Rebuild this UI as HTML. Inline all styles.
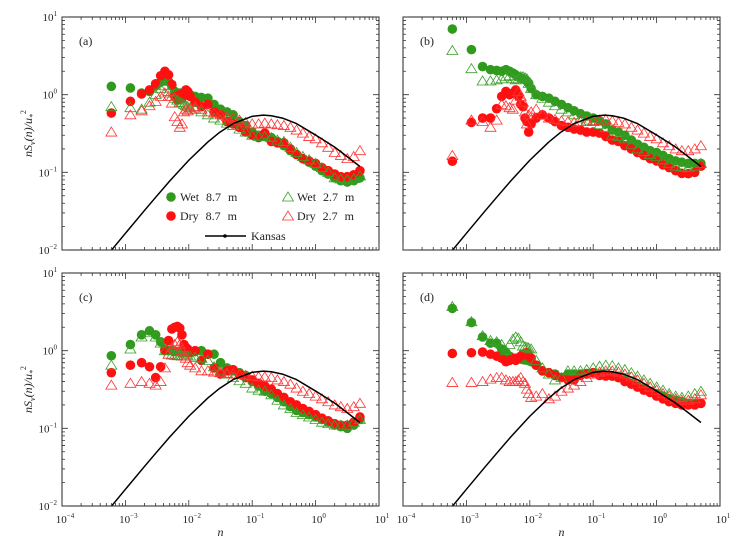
<!DOCTYPE html>
<html><head><meta charset="utf-8"><style>
html,body{margin:0;padding:0;background:#fff;}
svg{display:block;font-family:"Liberation Serif",serif;}
</style></head><body>
<svg id="chart" width="739" height="544" viewBox="0 0 739 544" xmlns="http://www.w3.org/2000/svg"></svg>
<script>
const xs=[6e-4,1.2e-3,1.8e-3,2.4e-3,3e-3,3.6e-3,4.2e-3,4.8e-3,5.4e-3,6e-3,6.6e-3,7.2e-3,7.8e-3,8.4e-3,9e-3,9.6e-3,0.0105,0.0126,0.0158,0.02,0.025,0.0316,0.04,0.05,0.063,0.079,0.1,0.126,0.158,0.2,0.25,0.316,0.4,0.5,0.63,0.79,1,1.26,1.58,2,2.5,3.16,4,5];
// panel a
const aWet87=[1.28,1.22,1.05,1.1,1.3,1.45,1.5,1.48,1.3,1.1,1.0,1.05,0.95,1.0,1.1,1.05,1.0,0.95,0.92,0.9,0.75,0.65,0.6,0.55,0.45,0.4,0.33,0.3,0.29,0.28,0.25,0.22,0.19,0.17,0.15,0.135,0.12,0.105,0.095,0.085,0.078,0.075,0.078,0.085];
const aDry87=[0.58,0.82,1.02,1.15,1.38,1.75,2.0,1.8,1.35,0.95,0.85,1.0,0.9,1.05,1.15,1.1,0.95,0.8,0.7,0.75,0.6,0.55,0.45,0.42,0.38,0.33,0.3,0.28,0.32,0.25,0.24,0.24,0.2,0.17,0.15,0.14,0.13,0.115,0.105,0.095,0.088,0.088,0.093,0.105];
const aWet27=[0.7,0.68,0.65,0.8,1.0,1.2,1.3,1.1,0.95,0.9,0.85,0.8,0.78,0.75,0.72,0.7,0.68,0.65,0.6,0.55,0.5,0.47,0.43,0.4,0.36,0.33,0.3,0.29,0.29,0.28,0.26,0.25,0.21,0.18,0.16,0.145,0.13,0.115,0.1,0.085,0.082,0.08,0.083,0.09];
const aDry27=[0.33,0.55,0.62,0.72,0.82,0.95,1.05,0.95,0.78,0.52,0.45,0.38,0.42,0.6,0.65,0.62,0.65,0.7,0.65,0.6,0.58,0.55,0.52,0.5,0.47,0.44,0.42,0.42,0.43,0.42,0.41,0.4,0.38,0.35,0.32,0.29,0.27,0.24,0.21,0.18,0.165,0.15,0.16,0.19];
// panel b
const bWet87=[7.0,3.8,2.3,2.1,2.05,2.0,2.1,2.0,1.9,1.8,1.7,1.65,1.6,1.55,1.5,1.4,1.2,1.0,0.95,0.9,0.82,0.75,0.68,0.62,0.57,0.53,0.5,0.46,0.42,0.35,0.33,0.3,0.26,0.23,0.21,0.19,0.18,0.165,0.15,0.14,0.135,0.13,0.13,0.13];
const bDry87=[0.139,0.44,0.5,0.5,0.66,0.95,1.1,1.0,1.05,1.15,0.95,0.75,0.7,0.5,0.45,0.33,0.42,0.5,0.55,0.5,0.45,0.4,0.38,0.36,0.35,0.33,0.33,0.32,0.29,0.26,0.25,0.22,0.2,0.18,0.165,0.15,0.14,0.125,0.115,0.105,0.097,0.096,0.1,0.12];
const bWet27=[3.7,2.16,1.5,1.5,1.55,1.6,1.7,1.75,1.6,1.55,1.6,1.7,1.7,1.65,1.6,1.4,1.2,1.0,0.9,0.8,0.72,0.65,0.6,0.55,0.5,0.47,0.45,0.41,0.38,0.3,0.29,0.27,0.23,0.2,0.185,0.17,0.16,0.145,0.13,0.12,0.117,0.115,0.12,0.13];
const bDry27=[0.165,0.47,0.45,0.38,0.47,0.75,0.72,0.68,0.65,0.85,1.1,0.95,0.8,0.6,0.42,0.55,0.6,0.65,0.55,0.5,0.48,0.46,0.45,0.44,0.45,0.45,0.46,0.47,0.48,0.46,0.44,0.42,0.38,0.35,0.32,0.29,0.27,0.24,0.22,0.2,0.19,0.19,0.2,0.22];
// panel c
const cWet87=[0.86,1.2,1.6,1.8,1.6,1.3,1.05,1.0,1.0,0.98,0.97,0.96,0.95,0.95,0.95,0.95,0.95,0.97,1.0,0.9,0.9,0.7,0.6,0.55,0.52,0.48,0.4,0.35,0.3,0.28,0.25,0.22,0.19,0.17,0.16,0.15,0.14,0.13,0.12,0.11,0.105,0.1,0.11,0.13];
const cDry87=[0.52,0.65,0.7,0.62,0.45,0.62,1.0,1.35,1.9,2.0,2.05,1.95,1.6,1.2,1.1,1.05,0.95,1.0,0.75,0.9,0.6,0.5,0.55,0.57,0.5,0.45,0.42,0.38,0.35,0.32,0.28,0.25,0.22,0.2,0.18,0.165,0.15,0.135,0.125,0.115,0.11,0.11,0.12,0.14];
const cWet27=[0.65,1.05,1.5,1.7,1.5,1.25,1.0,0.9,0.88,0.87,0.86,0.86,0.85,0.85,0.85,0.85,0.85,0.82,0.8,0.75,0.62,0.55,0.5,0.45,0.41,0.38,0.33,0.31,0.3,0.27,0.23,0.2,0.18,0.16,0.15,0.14,0.13,0.12,0.115,0.11,0.11,0.11,0.12,0.13];
const cDry27=[0.36,0.38,0.4,0.38,0.36,0.4,0.6,0.9,1.1,1.2,1.3,1.2,1.0,0.85,0.8,0.7,0.65,0.6,0.55,0.55,0.53,0.52,0.51,0.5,0.49,0.48,0.47,0.46,0.46,0.45,0.42,0.4,0.37,0.33,0.3,0.28,0.26,0.24,0.22,0.2,0.19,0.18,0.19,0.21];
// panel d
const dWet87=[3.5,2.3,1.5,1.25,1.25,1.05,0.95,0.85,0.8,0.8,0.8,0.78,0.77,0.76,0.76,0.75,0.72,0.65,0.55,0.52,0.5,0.45,0.5,0.5,0.5,0.51,0.52,0.5,0.48,0.47,0.45,0.42,0.38,0.35,0.32,0.3,0.28,0.26,0.24,0.23,0.22,0.21,0.21,0.21];
const dDry87=[0.92,0.94,0.96,0.9,0.85,0.8,0.72,0.75,0.8,0.75,0.8,0.85,0.9,0.92,0.95,0.85,0.8,0.65,0.55,0.52,0.48,0.45,0.42,0.42,0.48,0.5,0.52,0.48,0.47,0.47,0.45,0.4,0.37,0.34,0.31,0.29,0.26,0.24,0.22,0.21,0.2,0.2,0.2,0.21];
const dWet27=[3.7,2.36,1.56,1.35,1.3,1.2,1.0,1.2,1.4,1.5,1.45,1.3,1.15,1.12,1.1,1.08,1.05,0.75,0.6,0.5,0.42,0.45,0.55,0.55,0.55,0.57,0.6,0.63,0.65,0.64,0.6,0.57,0.52,0.47,0.42,0.38,0.34,0.31,0.28,0.26,0.25,0.26,0.28,0.3];
const dDry27=[0.39,0.39,0.4,0.43,0.45,0.45,0.42,0.4,0.4,0.4,0.42,0.45,0.4,0.38,0.32,0.28,0.25,0.26,0.28,0.24,0.26,0.3,0.33,0.36,0.4,0.45,0.5,0.53,0.55,0.55,0.53,0.5,0.46,0.42,0.38,0.34,0.31,0.28,0.26,0.24,0.23,0.23,0.24,0.27];
// Kansas reference curve
const kansasN=[6e-4,1e-3,2e-3,3e-3,5e-3,0.01,0.02,0.03,0.05,0.1,0.15,0.2,0.3,0.5,1,2,3,5];
const kansasV=[0.0099,0.0164,0.0323,0.0477,0.0773,0.143,0.246,0.323,0.424,0.526,0.545,0.535,0.499,0.424,0.302,0.211,0.164,0.119];
const xTickLabels=["-4","-3","-2","-1","0","1"];
const yTickLabels=["-2","-1","0","1"];

const NS="http://www.w3.org/2000/svg";
const svg=document.getElementById('chart');
function mk(tag,attrs,parent){const e=document.createElementNS(NS,tag);for(const k in attrs)e.setAttribute(k,attrs[k]);(parent||svg).appendChild(e);return e;}
const GREEN="#2f9a1c",RED="#ff1010",GTRI="#3aa02a",RTRI="#ff3333";
const panels=[
 {id:'a',x0:62,x1:379,y0:17,y1:250,s:[aWet87,aDry87,aWet27,aDry27],ylab:true,xlab:false},
 {id:'b',x0:403,x1:720,y0:17,y1:250,s:[bWet87,bDry87,bWet27,bDry27],ylab:false,xlab:false},
 {id:'c',x0:62,x1:379,y0:273,y1:506,s:[cWet87,cDry87,cWet27,cDry27],ylab:true,xlab:true},
 {id:'d',x0:403,x1:720,y0:273,y1:506,s:[dWet87,dDry87,dWet27,dDry27],ylab:false,xlab:true}
];
function tri(g,cx,cy,col,name){
  const r=5;
  const p=mk('polygon',{points:`${cx},${cy-r} ${cx-r*1.1},${cy+r*0.8} ${cx+r*1.1},${cy+r*0.8}`,fill:'none',stroke:col,'stroke-width':0.8},g);
  
  
  return p;
}
panels.forEach(P=>{
  const g=mk('g',{});
  
  
  const X=n=>P.x0+(Math.log10(n)+4)/5*(P.x1-P.x0);
  const Y=v=>P.y1-(Math.log10(v)+2)/3*(P.y1-P.y0);
  const clip=mk('clipPath',{id:'clip'+P.id},g);
  mk('rect',{x:P.x0,y:P.y0,width:P.x1-P.x0,height:P.y1-P.y0},clip);
  const dg=mk('g',{'clip-path':`url(#clip${P.id})`},g);
  // series
  const [w87,d87,w27,d27]=P.s;
  w87.forEach((v,i)=>{const c=mk('circle',{cx:X(xs[i]),cy:Y(v),r:4.8,fill:GREEN},dg);
    
    });
  d87.forEach((v,i)=>{const c=mk('circle',{cx:X(xs[i]),cy:Y(v),r:4.8,fill:RED},dg);
    
    });
  w27.forEach((v,i)=>tri(dg,X(xs[i]),Y(v),GTRI,'wet-2.7m-point'));
  d27.forEach((v,i)=>tri(dg,X(xs[i]),Y(v),RTRI,'dry-2.7m-point'));
  // kansas line
  const pts=kansasN.map((n,i)=>X(n).toFixed(2)+','+Y(kansasV[i]).toFixed(2)).join(' ');
  const kl=mk('polyline',{points:pts,fill:'none',stroke:'#000','stroke-width':1.5,'stroke-linejoin':'round'},dg);
  
  
  // frame
  const fr=mk('rect',{x:P.x0,y:P.y0,width:P.x1-P.x0,height:P.y1-P.y0,fill:'none',stroke:'#222','stroke-width':1},g);
  
  
  // ticks
  let tk='';
  for(let d=-4;d<=1;d++){
    for(let m=1;m<=9;m++){
      if(d===1&&m>1)break;
      const x=X(m*Math.pow(10,d));const L=m===1?6:3;
      tk+=`M${x},${P.y1}v${-L}M${x},${P.y0}v${L}`;
    }
  }
  for(let d=-2;d<=1;d++){
    for(let m=1;m<=9;m++){
      if(d===1&&m>1)break;
      const y=Y(m*Math.pow(10,d));const L=m===1?6:3;
      tk+=`M${P.x0},${y}h${L}M${P.x1},${y}h${-L}`;
    }
  }
  const tp=mk('path',{d:tk,stroke:'#333','stroke-width':0.8,fill:'none'},g);
  
  
  // panel label
  const pl=mk('text',{x:P.x0+17,y:P.y0+28,'font-size':12,fill:'#222'},g);
  pl.textContent='('+P.id+')';
  
  
  if(P.ylab){
    yTickLabels.forEach(e=>{
      const t=mk('text',{x:P.x0-5,y:Y(Math.pow(10,+e))+4,'font-size':11,'text-anchor':'end',fill:'#222'},g);
      t.innerHTML=`10<tspan dy="-5" font-size="7">${e.replace('-','\u2212')}</tspan>`;
      
      
    });
    const yl=mk('text',{transform:`translate(${P.x0-30},${(P.y0+P.y1)/2}) rotate(-90)`,'font-size':12,'text-anchor':'middle','font-style':'italic',fill:'#222'},g);
    yl.innerHTML='nS<tspan dy="3" font-size="8">v</tspan><tspan dy="-3">(n)/u</tspan><tspan dy="3" font-size="8">*</tspan><tspan dy="-9" font-size="8" font-style="normal">2</tspan>';
    
    
  }
  if(P.xlab){
    xTickLabels.forEach(e=>{
      const t=mk('text',{x:X(Math.pow(10,+e))+3,y:P.y1+17,'font-size':11,'text-anchor':'middle',fill:'#222'},g);
      t.innerHTML=`10<tspan dy="-5" font-size="7">${e.replace('-','\u2212')}</tspan>`;
      
      
    });
    const xl=mk('text',{x:(P.x0+P.x1)/2,y:P.y1+30,'font-size':12,'text-anchor':'middle','font-style':'italic',fill:'#222'},g);
    xl.textContent='n';
    
    
  }
});
// legend (in panel a)
const lg=mk('g',{'font-size':12,fill:'#222'});


const e1=mk('circle',{cx:171,cy:197,r:4.8,fill:GREEN},lg);


const e2=mk('circle',{cx:171,cy:216,r:4.8,fill:RED},lg);


tri(lg,288,197,GTRI,'legend-wet-2.7-marker');
tri(lg,288,216,RTRI,'legend-dry-2.7-marker');
[[180,201,'Wet 8.7 m'],[180,220,'Dry 8.7 m'],[297,201,'Wet 2.7 m'],[297,220,'Dry 2.7 m'],[251,240,'Kansas']].forEach(a=>{
  const t=mk('text',{x:a[0],y:a[1],'word-spacing':4,fill:'#222'},lg);
  t.textContent=a[2];
  
  
});
const kl=mk('line',{x1:205,y1:236,x2:246,y2:236,stroke:'#000','stroke-width':1.5},lg);


const kd=mk('circle',{cx:225,cy:236,r:1.8,fill:'#000'},lg);


</script>
</body></html>
